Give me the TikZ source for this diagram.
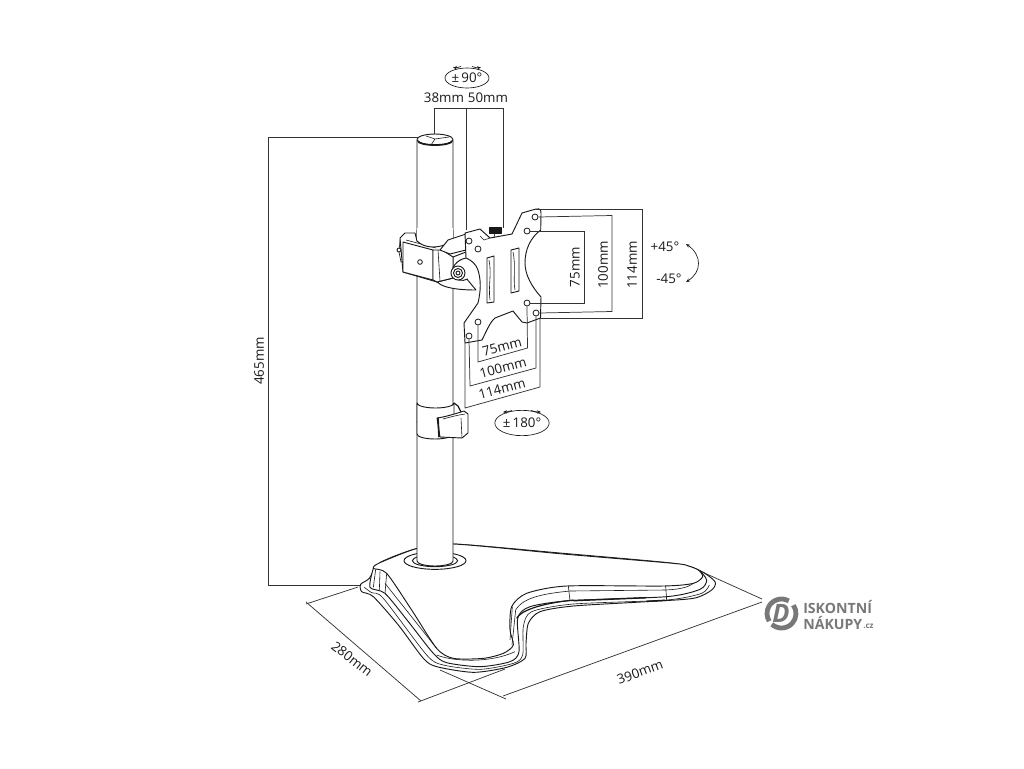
\documentclass[tikz,border=0pt]{standalone}
\usepackage{fontspec}
\setmainfont{Open Sans}
\usetikzlibrary{arrows.meta,shapes.geometric}
\definecolor{ink}{gray}{0.1}
\definecolor{dimc}{gray}{0.2}
\definecolor{logoc}{gray}{0.47}
\tikzset{
 dimline/.style={draw=dimc,line width=0.55pt},
 part/.style={draw=ink,line width=0.7pt,line join=round,fill=white},
 thinpart/.style={draw=ink,line width=0.45pt},
 lab/.style={font=\fontsize{10}{10}\selectfont,text=ink,inner sep=0pt},
 oval/.style={draw=ink,line width=0.5pt,shape=ellipse,inner sep=0pt,font=\fontsize{10}{10}\selectfont,text=ink},
 hole/.style={draw=ink,line width=0.6pt,fill=white,minimum size=4.5pt,inner sep=0pt,shape=circle},
 rotarrow/.style={draw=ink,line width=0.5pt,-{Stealth[length=3pt,width=2.5pt]}},
 logot/.style={text=logoc,inner sep=0pt,anchor=west}
}
\begin{document}
\begin{tikzpicture}[x=0.75pt,y=-0.75pt]
\useasboundingbox (0,0) rectangle (1024,768);
% ---- dimension lines behind the object
\draw[dimline] (268,137) -- (420,137) (268,137) -- (268,585) -- (362,585);
\node[lab,rotate=90] (h465) at (259,361) {465mm};
\draw[dimline] (434,135) -- (434,108) -- (503,108) -- (503,228) (466,108) -- (466,230);
\node[lab] (t38) at (444,98) {38mm};
\node[lab] (t50) at (488,98) {50mm};
\node[oval,minimum width=33pt,minimum height=15pt] (o90) at (467,78) {±\,90°};
\draw[rotarrow] (461,66.5) to[bend left=12] (453,67.5);
\draw[rotarrow] (472,66.5) to[bend right=12] (481,67.5);
\node[lab,rotate=90] (r75) at (575,267) {75mm};
\node[lab,rotate=90] (r100) at (603,265) {100mm};
\node[lab,rotate=90] (r114) at (632,265) {114mm};
\node[lab] (p45) at (665,247) {+45°};
\node[lab] (m45) at (669,279) {-45°};
\draw[rotarrow,{Stealth[length=3pt,width=2.5pt]}-{Stealth[length=3pt,width=2.5pt]}] (686,244) .. controls (702,255) and (702,272) .. (686,282);
\node[lab,rotate=15] (b75) at (502,347) {75mm};
\node[lab,rotate=15] (b100) at (503,368) {100mm};
\node[lab,rotate=15] (b114) at (502,389) {114mm};
\node[oval,minimum width=39pt,minimum height=19pt] (o180) at (522,423) {±\,180°};
\draw[rotarrow] (512,410.5) to[bend left=8] (503,412);
\draw[rotarrow] (531,410.5) to[bend right=8] (541,412);
% base dims
\draw[dimline] (306,604) -- (358,587);
\draw[dimline] (306,602) -- (421,701);
\draw[dimline] (418,702) -- (505,669);
\draw[dimline] (440,670) -- (506,699);
\draw[dimline] (503,696) -- (762,602);
\draw[dimline] (700,571) -- (762,599);
\node[lab,rotate=-38] (d280) at (352,659) {280mm};
\node[lab,rotate=20] (d390) at (640,672) {390mm};
% ---- base, in 3x zoom coordinates
\begin{scope}[x=0.25pt,y=-0.25pt,xshift=255pt,yshift=-397.5pt]
\draw[part] plot[smooth cycle,tension=0.45] coordinates {(88,145)(62,163)(65,185)(100,200)(175,285)(250,385)(290,410)(400,427)(500,412)(555,385)(558,340)(565,280)(600,245)(700,228)(920,215)(1060,205)(1115,180)(1125,155)(1080,122)(1000,100)(670,70)(340,42)(232,55)(120,98)};
\draw[part] plot[smooth,tension=0.45] coordinates {(100,115)(90,172)(135,190)(205,275)(280,370)(320,398)(420,410)(510,395)(537,365)(533,265)(570,230)(690,212)(980,200)(1080,178)(1100,150)(1078,120)};
\draw[thinpart] plot[smooth,tension=0.45] coordinates {(73,172)(95,188)(130,205)(260,375)(310,405)(420,418)(520,400)(548,375)(550,290)(575,245)(700,222)(980,210)(1085,190)(1108,165)};
\draw[part] plot[smooth cycle,tension=0.45] coordinates {(340,42)(670,72)(1000,100)(1045,108)(1075,120)(1088,140)(1060,160)(970,168)(680,168)(560,190)(515,230)(510,300)(520,345)(490,370)(430,385)(340,385)(290,355)(215,240)(140,130)(100,115)(120,98)(232,55)};
\draw[thinpart] (1060,160) .. controls (1040,175) and (1010,178) .. (977,180) -- (690,183) .. controls (620,190) and (550,200) .. (527,240);
\draw[thinpart] (685,168) -- (690,212) (977,168) -- (980,212) (107,118) -- (100,172) (120,125) -- (118,180) (140,130) -- (135,190);
\draw[thinpart] (527,240) -- (516,345) (517,230) -- (510,330);
\draw[thinpart] (135,160) -- (290,355);
\draw[thinpart] (290,375) .. controls (340,395) and (450,400) .. (525,365);
\draw[draw=ink,line width=1.1pt] (700,212) -- (920,203);
\draw[draw=ink,line width=1.1pt] (920,214) -- (975,211);
\draw[draw=ink,line width=0.9pt] (530,265) .. controls (540,245) and (590,222) .. (700,210);
\draw[part] (285,92) ellipse [x radius=93,y radius=26];
\draw[part] (285,92) ellipse [x radius=68,y radius=18];
\end{scope}
% ---- pole
\draw[part] (417,140) -- (417,561) arc[start angle=180,end angle=0,x radius=18,y radius=5] -- (453,140);
\draw[part] (435,139.5) ellipse [x radius=18,y radius=5.5];
\draw[thinpart] (435,139) -- (431,145) (435,139) -- (426,136) (435,139) -- (449,137);
\draw[ink,line width=1.3pt] (418,141) arc[start angle=180,end angle=0,x radius=17,y radius=4];
% ---- collar and cable clip
\draw[part] (417,403) arc[start angle=180,end angle=0,x radius=18.5,y radius=5] -- (454,422) arc[start angle=0,end angle=180,x radius=18.5,y radius=5] -- cycle;
\draw[part] (417,422) -- (417,434) arc[start angle=180,end angle=0,x radius=18,y radius=5] -- (453,422);
\draw[part] (437,418) .. controls (445,417) and (458,413) .. (464,411) -- (468,414) -- (468,433) -- (462,438) -- (440,437) -- cycle;
\draw[ink,line width=1.2pt] (438,418) -- (439,437);
\draw[thinpart] (443,419) .. controls (450,417) and (458,415) .. (465,414);
\draw[ink,line width=0.9pt] (454,403) -- (458,406) -- (461,412);
\draw[thinpart] (461,418) -- (462,438);
% ---- pole clamp
\draw[part] (437,282) .. controls (445,290) and (470,290) .. (476,290) -- (466,278) -- (453,278) -- cycle;
\draw[part] (400,238) -- (405,233) -- (415,233) -- (417,241) -- (440,240) -- (466,238) -- (466,252) -- (453,257) -- (453,278) -- (437,282) -- (403,272) -- cycle;
\draw[part] (403,242) -- (433,250) -- (433,280) -- (403,272) -- cycle;
\draw[part] (433,250) -- (442,250) -- (453,257) -- (453,278) -- (437,282) -- (433,280) -- cycle;
\draw[thinpart] (438,250) -- (440,281) (406,240) -- (436,248);
\draw[part] (417,241) .. controls (425,249) and (440,249) .. (453,241) -- (453,230) -- (417,230) -- cycle;
\draw[draw=none,fill=white] (417.4,228) rectangle (452.6,240);
\draw[part] (440,250) -- (448,240) -- (466,234) -- (466,250) -- (450,254) -- cycle;
\draw[thinpart] (400,240) -- (399,252) -- (401,262) -- (403,262);
\node[hole,minimum size=3.5pt] (cl) at (420,262) {};
\draw[part] (399,250) circle (2);
% ---- knob
\draw[part,fill=ink] (489,227) rectangle (501,233);
% ---- plate
\draw[part] (465,233) -- (480,229) -- (490,238) -- (512,234) -- (522,213) -- (536,209) .. controls (541,208) and (541,211) .. (541,214) -- (540.7,230) .. controls (530,238) and (525,250) .. (525,263) .. controls (525,275) and (532,287) .. (541,297) -- (540.5,318) -- (527,323) -- (522,322) -- (513,311) -- (495,318) .. controls (490,322) and (486,332) .. (482,340) -- (465,343) -- (464,323) -- (478,303) .. controls (481,290) and (481,280) .. (478,270) .. controls (476,264) and (471,260) .. (466,258) -- cycle;
\draw[thinpart] (490,238) -- (484,240) -- (480,236);
\draw[thinpart] (495,232) -- (494,238);
% slots
\draw[part] (487,258) -- (494,256) -- (494,302) -- (487,303) -- cycle;
\draw[thinpart] (489,260) .. controls (492,275) and (488,285) .. (490,300);
\draw[part] (511,250) -- (519,248) -- (519,291) -- (511,293) -- cycle;
\draw[thinpart] (513,252) .. controls (516,265) and (513,280) .. (515,290);
% holes
\node[hole] (h1) at (469,241) {};
\node[hole] (h2) at (478,249) {};
\node[hole] (h3) at (535,217) {};
\node[hole] (h4) at (527,231) {};
\node[hole] (h5) at (527,303) {};
\node[hole] (h6) at (536,313) {};
\node[hole] (h7) at (478,322) {};
\node[hole] (h8) at (469,336) {};
% dims from the holes
\coordinate (earT) at (536,209);
\coordinate (cnrR) at (540,318);
\coordinate (cnrB) at (465,343);
\draw[dimline] (earT) -- (642,209) -- (642,318) -- (cnrR);
\draw[dimline] (h3.east) -- (612,215.5) -- (612,311.5) -- (h6.east);
\draw[dimline] (h4.east) -- (584,231) -- (584,303) -- (h5.east);
\draw[dimline] (h7.south) -- (478,362) -- (527.5,348) -- (h5.south);
\draw[dimline] (h8.south) -- (470,386) -- (536,368) -- (h6.south);
\draw[dimline] (cnrB) -- (465,408) -- (540,387) -- (cnrR);
% hinge
\draw[part] (466,258) .. controls (456,260) and (451,268) .. (452,275) .. controls (454,280) and (462,282) .. (468,279);
\draw[part] (458,273) circle (7);
\draw[part] (458,273) circle (4.5);
\draw[part] (458,273) circle (2);
% ---- logo
\begin{scope}[shift={(781.5,613.5)}]
\draw[logoc,line width=3.6pt] (-60:14.5) arc[start angle=-60,end angle=-212,radius=14.5];
\draw[logoc,line width=3.6pt] (-228:14.5) arc[start angle=-228,end angle=-395,radius=14.5];
\end{scope}
\node[text=logoc,font=\fontsize{19}{19}\selectfont\bfseries\itshape,inner sep=0pt] (logod) at (781,613) {D};
\node[logot,font=\fontsize{10.6}{10.6}\selectfont\bfseries] (l1) at (803,607) {ISKONTNÍ};
\node[logot,font=\fontsize{10.6}{10.6}\selectfont\bfseries] (l2) at (803,623) {NÁKUPY};
\node[logot,font=\fontsize{6}{6}\selectfont\bfseries] (l3) at (863,626) {.cz};
\end{tikzpicture}
\end{document}
